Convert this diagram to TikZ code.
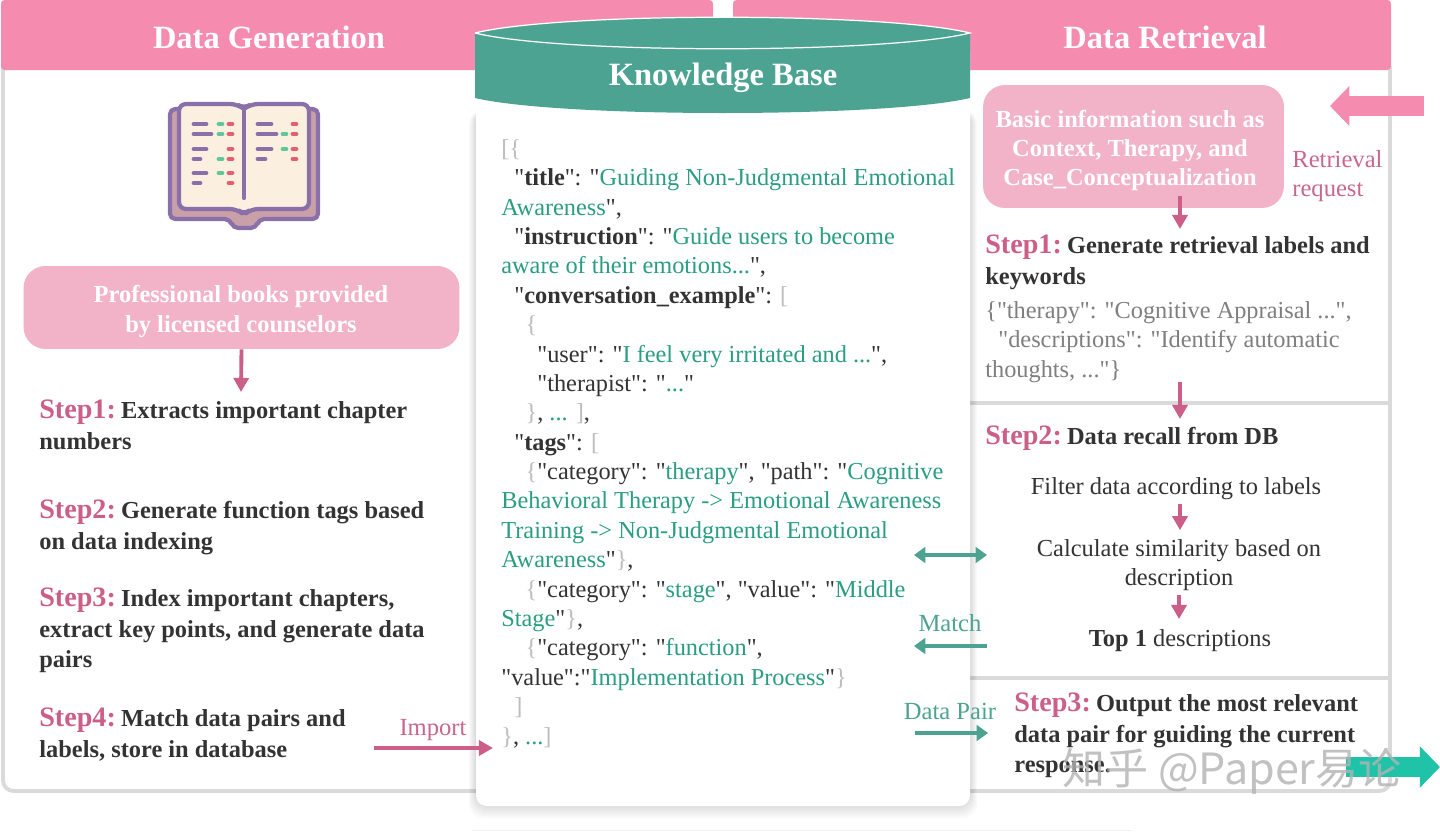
\documentclass[tikz,border=0pt]{standalone}
\usepackage{fontspec}
\setmainfont[Ligatures=TeXOff]{Liberation Serif}
\newfontfamily\cjkfont{Noto Sans CJK SC}
\usepackage{tikz}
\usetikzlibrary{arrows.meta,calc,positioning}
\usepackage{xcolor}
\definecolor{KBHead}{HTML}{F58CB0}
\definecolor{KBBox}{HTML}{F2B2C8}
\definecolor{KBRose}{HTML}{CB5F8A}
\definecolor{KBRoseText}{HTML}{C9668F}
\definecolor{KBTeal}{HTML}{4DA391}
\definecolor{KBGreen}{HTML}{2A9D84}
\definecolor{KBOut}{HTML}{1FC4A8}
\definecolor{KBInk}{HTML}{333333}
\definecolor{KBBorder}{HTML}{DADADA}
\definecolor{KBMuted}{HTML}{7F7F7F}
\definecolor{KBBrace}{HTML}{BDBDBD}
\definecolor{BookLine}{HTML}{8A70A8}
\definecolor{BookCover}{HTML}{C9A0A8}
\definecolor{BookPage}{HTML}{FBF0DF}
\definecolor{BookGreen}{HTML}{5FC79A}
\definecolor{BookRed}{HTML}{E5606F}
\newcommand{\stepname}[1]{{\color{KBRose}\fontsize{16}{17}\selectfont #1}\kern-1.7pt\relax}
\newcommand{\val}[1]{\textcolor{KBGreen}{#1}}
\newcommand{\brc}[1]{\textcolor{KBBrace}{#1}}
\newcommand{\inda}{\hspace*{7.4pt}}
\newcommand{\indb}{\hspace*{13.8pt}}
\newcommand{\indc}{\hspace*{20.5pt}}

\begin{document}
\begin{tikzpicture}[
  x=0.02cm,y=-0.02cm,font=\rmfamily,>=Latex,
  flow/.style={-{Triangle[length=8pt,width=8.5pt]},draw=KBRose,line width=2.2pt},
  tealflow/.style={-{Triangle[length=6.5pt,width=9pt]},draw=KBTeal,line width=2.2pt},
  tealboth/.style={tealflow,{Triangle[length=6.5pt,width=9pt]}-{Triangle[length=6.5pt,width=9pt]}},
  panel/.style={draw=KBBorder,line width=2.2pt},
  head/.style={fill=KBHead,rounded corners=2pt},
  title/.style={text=white,font=\bfseries\fontsize{18.5}{20}\selectfont},
  pinkpad/.style={fill=KBBox,rounded corners=0.44cm},
  pinktext/.style={align=center,text=white,inner sep=0pt,
    font=\bfseries\fontsize{13.95}{16.75}\selectfont},
  steptext/.style={anchor=north west,inner sep=0pt,align=left,text=KBInk,
    font=\bfseries\fontsize{13.9}{17.1}\selectfont},
  body/.style={align=center,text=KBInk,inner sep=2pt,
    font=\fontsize{13.9}{16.6}\selectfont},
  code/.style={anchor=north west,inner sep=0pt,align=left,text=KBInk,
    font=\fontsize{13.85}{16.73}\selectfont},
  lab/.style={inner sep=0pt,font=\fontsize{14}{16.72}\selectfont},
  bar/.style={line width=2.7pt,line cap=round}
]
\useasboundingbox (0,0) rectangle (1440,832);
\fill[white] (0,0) rectangle (1440,832);

% Two outer panels, their headers, then the card that sits over both
\draw[panel,rounded corners=6pt] (3,66) -- (3,791) -- (476,791);
\draw[panel,rounded corners=6pt] (970,791) -- (1390,791) -- (1390,66);
\draw[panel] (970,403) -- (1390,403);
\draw[panel] (970,678) -- (1390,678);
\fill[head] (1,0) rectangle (713,70);
\fill[head] (733,0) rectangle (1391,70);
\node[title] (gen) at (269,37) {Data Generation};
\node[title] (ret) at (1165,37) {Data Retrieval};

\foreach \s in {2,4,...,14}
  \fill[black,opacity=0.018,rounded corners=8pt] ({476-\s/2},110) rectangle ({970+\s/2},{804+\s});
\fill[white,rounded corners=6pt] (476,40) rectangle (970,806);
\draw[KBBorder!40,line width=0.5pt] (472,830) -- (1132,830);

\fill[KBTeal] (475,33) -- (475,98) .. controls (560,118) and (885,118) .. (970,98) -- (970,33)
  .. controls (885,12) and (560,12) .. (475,33);
\draw[white,line width=0.7pt] (475,33) .. controls (560,12) and (885,12) .. (970,33)
  .. controls (885,54) and (560,54) .. (475,33);
\node[title] (kb) at (723,78) {Knowledge Base};

% Book icon
\draw[BookLine,fill=BookCover,line width=2.4pt,line join=round,rounded corners=3pt]
  (170,109) -- (318,109) -- (318,219) -- (259,219) -- (256,228) -- (233,228) -- (230,219) -- (170,219) -- cycle;
\draw[BookLine,fill=BookPage,line width=2.4pt,line join=round,rounded corners=4pt]
  (179,104) -- (237,104) -- (244,109) -- (251,104) -- (309,104) -- (309,209) -- (251,209) -- (244,215) -- (237,209) -- (179,209) -- cycle;
\draw[BookLine,line width=2.4pt,line cap=round] (244,108) -- (244,198);
\foreach \xa/\xb/\yy in {194/206/124,194/211/134,194/206/149,194/200/159,194/206/173,194/200/183,
    258/271/124,258/276/134,258/271/149,258/265/159}
  \draw[bar,BookLine] (\xa,\yy) -- (\xb,\yy);
\foreach \xa/\yy in {219/124,219/134,219/159,219/173,283/134,283/149}
  \draw[bar,BookGreen] (\xa,\yy) -- ({\xa+3},\yy);
\foreach \xa/\yy in {229/124,229/134,229/149,229/159,229/173,229/183,293/124,293/134,293/149,293/159}
  \draw[bar,BookRed] (\xa,\yy) -- ({\xa+3},\yy);

% Left column
\node[pinkpad,minimum width=8.72cm,minimum height=1.66cm] (booksbox) at (241.5,307.5) {};
\node[pinktext] (books) at (241,311.5)
  {Professional books provided\\by licensed counselors};
\coordinate (genin) at (241,392);
\draw[flow] (booksbox.south) -- (genin);

\node[steptext] (gen1) at (39,400) {\stepname{Step1:} Extracts important chapter\\numbers};
\node[steptext] (gen2) at (39,500) {\stepname{Step2:} Generate function tags based\\on data indexing};
\node[steptext] (gen3) at (39,588) {\stepname{Step3:} Index important chapters,\\extract key points, and generate data\\pairs};
\node[steptext] (gen4) at (39,708) {\stepname{Step4:} Match data pairs and\\labels, store in database};

\node[lab,text=KBRoseText] (import) at (433,730) {Import};
\coordinate (impa) at (374,748);
\coordinate (impb) at (493,748);
\draw[flow] (impa) -- (impb);

% Knowledge base record
\node[code] (record) at (501,139) {%
\brc{[\{}\\
\inda"\textbf{title}": "\val{Guiding Non-Judgmental Emotional}\\
\val{Awareness}",\\
\inda"\textbf{instruction}": "\val{Guide users to become}\\
\val{aware of their emotions...}",\\
\inda"\textbf{conversation\_example}": \brc{[}\\
\indb\brc{\{}\\
\indc"user": "\val{I feel very irritated and ...}",\\
\indc"therapist": "\val{...}"\\
\indb\brc{\}}, \val{...} \brc{]},\\
\inda"\textbf{tags}": \brc{[}\\
\indb\brc{\{}"category": "\val{therapy}", "path": "\val{Cognitive}\\
\val{Behavioral Therapy -> Emotional Awareness}\\
\val{Training -> Non-Judgmental Emotional}\\
\val{Awareness}"\brc{\}},\\
\indb\brc{\{}"category": "\val{stage}", "value": "\val{Middle}\\
\val{Stage}"\brc{\}},\\
\indb\brc{\{}"category": "\val{function}",\\
"value":"\val{Implementation Process}"\brc{\}}\\
\inda\brc{]}\\
\brc{\}}, \val{...}\brc{]}};

% Right column
\node[pinkpad,minimum width=6.02cm,minimum height=2.46cm] (requestbox) at (1133.5,146.5) {};
\node[pinktext] (request) at (1130,150.5)
  {Basic information such as\\Context, Therapy, and\\Case\_Conceptualization};
\coordinate (reqa) at (1424,106);
\coordinate (reqb) at (1330,106);
\draw[-{Triangle[length=11pt,width=22pt]},draw=KBHead,line width=11.4pt] (reqa) -- (reqb);
\node[lab,anchor=north west,align=left,text=KBRoseText] (reqlab) at (1292,150) {Retrieval\\request};

\coordinate (reqout) at (1180,196);
\coordinate (stepin) at (1180,229);
\draw[flow] (reqout) -- (stepin);
\node[steptext] (ret1) at (985,235) {\stepname{Step1:} Generate retrieval labels and\\keywords};
\node[code,text=KBMuted] (labels) at (985,301)
  {\{"therapy": "Cognitive Appraisal ...",\\\inda"descriptions": "Identify automatic\\thoughts, ..."\}};
\coordinate (laba) at (1180,382);
\coordinate (labb) at (1180,419);
\draw[flow] (laba) -- (labb);

\node[steptext] (ret2) at (985,426) {\stepname{Step2:} Data recall from DB};
\node[body] (filter) at (1176,489) {Filter data according to labels};
\node[body] (similar) at (1179,565) {Calculate similarity based on\\description};
\node[body] (top) at (1180,641) {\textbf{Top 1} descriptions};
\draw[flow,shorten >=3pt] ($(filter.south)+(4,0)$) -- ($(similar.north)+(1,0)$);
\draw[flow,shorten >=4pt] (similar.south) -- (similar.south |- top.north);

\node[steptext] (ret3) at (1014,693) {\stepname{Step3:} Output the most relevant\\data pair for guiding the current\\response.};

\coordinate (bia) at (914,555);
\coordinate (bib) at (987,555);
\draw[tealboth] (bia) -- (bib);
\node[lab,text=KBTeal] (match) at (950,623) {Match};
\coordinate (mata) at (987,646);
\coordinate (matb) at (914,646);
\draw[tealflow] (mata) -- (matb);
\node[lab,text=KBTeal] (pair) at (950,711) {Data Pair};
\coordinate (para) at (915,733);
\coordinate (parb) at (988,733);
\draw[tealflow] (para) -- (parb);

\coordinate (outa) at (1346,767);
\coordinate (outb) at (1440,767);
\draw[-{Triangle[length=11.5pt,width=23pt]},draw=KBOut,line width=11.6pt] (outa) -- (outb);

\node[inner sep=0pt,text=black!30,text opacity=0.8,font=\cjkfont\fontsize{24.5}{26}\selectfont]
  (mark) at (1232,771) {知乎 @Paper易论};
\end{tikzpicture}
\end{document}
